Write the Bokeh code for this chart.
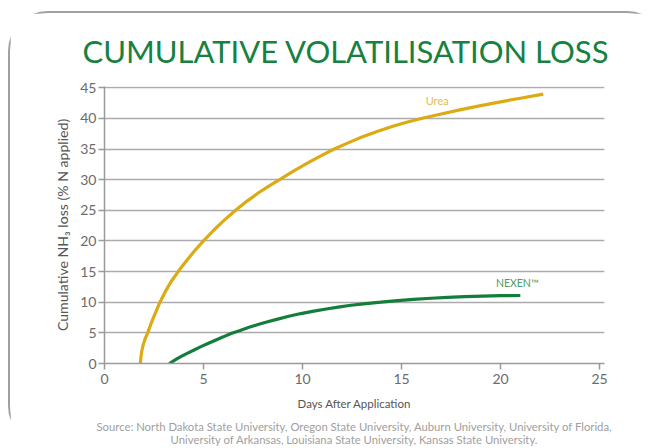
from bokeh.plotting import figure
from bokeh.models import Range1d, Label, LinearAxis, FixedTicker
from bokeh.embed import file_html
from bokeh.resources import INLINE

# ---- data ----
urea_days = [1.81, 1.84, 1.88, 1.95, 2.05, 2.18, 2.35, 2.55, 2.80, 3.05, 3.35, 3.72,
             4.10, 4.55, 5.00, 5.50, 6.05, 6.62, 7.20, 7.80, 8.30, 8.84, 9.50, 10.2,
             10.9, 11.6, 12.3, 13.0, 13.8, 14.6, 15.3, 16.1, 17.0, 18.0, 19.0, 20.0,
             21.0, 22.16]
urea_loss = [0.0, 1.0, 2.0, 3.0, 4.0, 5.0, 6.5, 8.1, 10.0, 11.6, 13.3, 15.0,
             16.6, 18.4, 20.0, 21.7, 23.4, 25.0, 26.5, 27.9, 28.95, 30.0, 31.3, 32.6,
             33.85, 35.0, 36.0, 36.95, 37.9, 38.75, 39.4, 40.05, 40.72, 41.42, 42.08, 42.7,
             43.28, 43.95]

nexen_days = [3.27, 3.45, 3.65, 3.90, 4.20, 4.55, 4.87, 5.25, 5.60, 6.00, 6.39, 6.85,
              7.30, 7.75, 8.24, 8.70, 9.30, 9.92, 10.5, 11.2, 11.8, 12.45, 13.2, 13.96,
              14.8, 15.6, 16.5, 17.33, 18.2, 19.1, 20.0, 21.0]
nexen_loss = [0.0, 0.35, 0.75, 1.2, 1.7, 2.25, 2.75, 3.3, 3.8, 4.35, 4.9, 5.4,
              5.9, 6.35, 6.8, 7.2, 7.7, 8.15, 8.5, 8.9, 9.2, 9.5, 9.78, 10.0,
              10.25, 10.45, 10.65, 10.8, 10.92, 11.0, 11.06, 11.1]

x_ticks = [0, 5, 10, 15, 20, 25]
y_ticks = [0, 5, 10, 15, 20, 25, 30, 35, 40, 45]

title_text = "CUMULATIVE VOLATILISATION LOSS"
x_label = "Days After Application"
y_label = "Cumulative NH\u2083 loss (% N applied)"
source_1 = "Source: North Dakota State University, Oregon State University, Auburn University, University of Florida,"
source_2 = "University of Arkansas, Louisiana State University, Kansas State University."
urea_name = "Urea"
nexen_name = "NEXEN\u2122"

FONT = "Lato"
GOLD = "#dcaa12"
GREEN = "#137d3c"
BORDER = "2px solid #a0a0a0"

p = figure(width=659, height=435, output_backend="svg", toolbar_location=None,
           x_range=Range1d(0, 25.25), y_range=Range1d(0, 45.2),
           min_border_left=94, min_border_right=65, min_border_top=73,
           min_border_bottom=85)
p.styles = {"margin-left": "8px", "margin-top": "11px",
            "border-left": BORDER, "border-top": BORDER,
            "border-right": "2px solid transparent",
            "border-bottom": "0px solid transparent", "border-radius": "40px"}
p.outline_line_color = None
p.background_fill_color = "white"
p.border_fill_color = "white"

# title
p.title.text = title_text
p.title.align = "left"
p.title.offset = -22
p.title.vertical_align = "middle"
p.title.text_font = FONT
p.title.text_font_size = "31px"
p.title.text_font_style = "normal"
p.title.text_color = "#17813f"
p.title.standoff = 32

# grid
p.xgrid.grid_line_color = None
p.ygrid.grid_line_color = "#ababab"
p.ygrid.grid_line_width = 1.5
p.ygrid.ticker = FixedTicker(ticks=y_ticks)

# axes
for ax in (p.xaxis[0], p.yaxis[0]):
    ax.axis_line_color = "#9a9a9a"
    ax.axis_line_width = 1.5
    ax.major_tick_line_color = "#9a9a9a"
    ax.major_tick_line_width = 1.5
    ax.major_tick_in = 0
    ax.major_tick_out = 6
    ax.minor_tick_line_color = None
    ax.major_label_text_font = FONT
    ax.major_label_text_font_size = "14px"
    ax.major_label_text_color = "#6b6b6b"
    ax.axis_label_text_font = FONT
    ax.axis_label_text_font_style = "normal"
    ax.axis_label_text_color = "#555555"

p.xaxis.ticker = FixedTicker(ticks=x_ticks)
p.yaxis.ticker = FixedTicker(ticks=y_ticks)
p.xaxis.axis_label = x_label
p.yaxis.axis_label = y_label
p.xaxis.axis_label_text_font_size = "11.5px"
p.yaxis.axis_label_text_font_size = "14.1px"
p.xaxis.major_label_standoff = 4
p.xaxis.axis_label_standoff = 10
p.yaxis.major_label_standoff = 2
p.yaxis.axis_label_standoff = 6

# source lines: label-only axes stacked under the x axis
for txt, so in ((source_1, 7), (source_2, -3)):
    src_axis = LinearAxis(ticker=FixedTicker(ticks=[]), axis_label=txt,
                          axis_line_color=None, major_tick_line_color=None,
                          minor_tick_line_color=None, major_tick_in=0, major_tick_out=0,
                          minor_tick_in=0, minor_tick_out=0, major_label_standoff=0,
                          major_label_text_font_size="0px", axis_label_standoff=so,
                          axis_label_text_font=FONT, axis_label_text_font_size="11.3px",
                          axis_label_text_font_style="normal",
                          axis_label_text_color="#a0a0a0")
    p.add_layout(src_axis, "below")

# series
p.line(urea_days, urea_loss, line_color=GOLD, line_width=3.2)
p.line(nexen_days, nexen_loss, line_color=GREEN, line_width=3.2)

# series labels
p.add_layout(Label(x=16.8, y=42.9, text=urea_name, text_align="center",
                   text_baseline="middle", text_font=FONT, text_font_size="11px",
                   text_color="#e2bd55"))
p.add_layout(Label(x=nexen_days[-1], y=nexen_loss[-1], x_offset=-3, y_offset=12,
                   text=nexen_name, text_align="center", text_baseline="middle",
                   text_font=FONT, text_font_size="10.5px", text_color="#4f9a66"))

open("out.html", "w").write(file_html(p, INLINE))
